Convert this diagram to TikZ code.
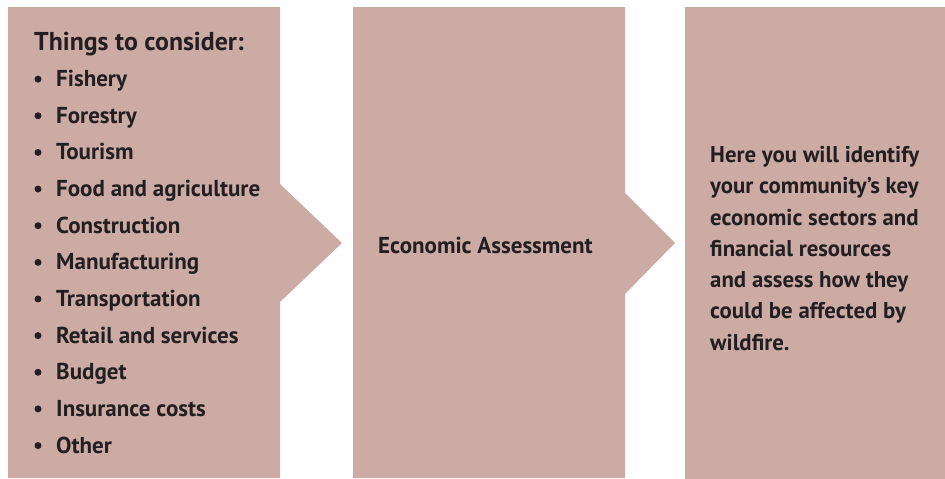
\documentclass[tikz,border=0pt]{standalone}
\usepackage{fontspec}
\setmainfont{PT Sans}
\definecolor{boxfill}{HTML}{CBABA4}
\definecolor{ink}{HTML}{231F20}
\begin{document}
\begin{tikzpicture}[x=1pt,y=-1pt,
  panel/.style={fill=boxfill,draw=none},
  txt/.style={text=ink,inner sep=0pt,font=\bfseries\fontsize{23}{36.6}\selectfont},
  item/.style={txt,anchor=base west},
  dot/.style={circle,fill=ink,inner sep=0pt,minimum size=7pt}]
\useasboundingbox (0,0) rectangle (945,479);
\fill[panel] (8,7) -- (280,7) -- (280,184) -- (342,243) -- (280,302) -- (280,478) -- (8,478) -- cycle;
\fill[panel] (353,7) -- (625,7) -- (625,193) -- (675,243) -- (625,294) -- (625,478) -- (353,478) -- cycle;
\fill[panel] (685,7) rectangle (945,479);
\node[item,font=\bfseries\fontsize{25.8}{30}\selectfont] (head) at (34,50) {Things to consider:};
\foreach \t [count=\i] in {Fishery,Forestry,Tourism,Food and agriculture,Construction,Manufacturing,Transportation,Retail and services,Budget,Insurance costs,Other}{
  \node[item] (it\i) at (56,{50+\i*36.64}) {\t};
  \node[dot] (b\i) at (38,{50+\i*36.64-7.5}) {};
}
\node[txt,anchor=base west,font=\fontsize{23}{26}\selectfont\bfseries] (econ) at (378,253) {Economic Assessment};
\node[txt,anchor=north west,align=left,font=\bfseries\fontsize{22.8}{31.3}\selectfont] (desc) at (710,146) {Here you will identify\\your community’s key\\economic sectors and\\financial resources\\and assess how they\\could be affected by\\wildfire.};
\end{tikzpicture}
\end{document}
